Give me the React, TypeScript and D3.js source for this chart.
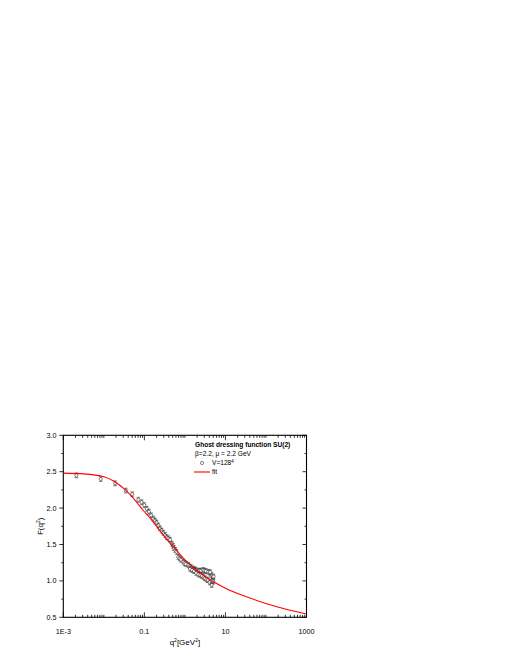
import { useRef, useEffect } from "react";
import * as d3 from "d3";

// lattice data, V=128^4 (q^2 in GeV^2, F(q^2))
const latQ = [
  0.0021, 0.0084, 0.019, 0.035, 0.05, 0.071, 0.086, 0.1, 0.115, 0.13, 0.148,
  0.166, 0.183, 0.201, 0.222, 0.243, 0.268, 0.293, 0.325, 0.356, 0.39, 0.43,
  0.48, 0.51, 0.537, 0.58, 0.62, 0.687, 0.74, 0.8, 0.914, 0.98, 1.06, 1.21,
  1.3, 1.42, 1.61, 1.75, 1.88, 2.14, 2.3, 2.5, 2.84, 3.05, 3.31, 3.78, 4.2,
  4.58, 5.0, 1.34, 1.5, 1.68, 1.9, 2.14, 2.4, 2.63, 2.9, 3.13, 3.4, 3.72, 4.1,
  4.58, 4.94, 4.17, 4.8, 5.1,
];
const latF = [
  2.45, 2.4, 2.34, 2.24, 2.19, 2.115, 2.08, 2.04, 1.99, 1.95, 1.9, 1.855,
  1.83, 1.8, 1.76, 1.72, 1.69, 1.66, 1.63, 1.6, 1.585, 1.565, 1.51, 1.48, 1.45,
  1.425, 1.4, 1.33, 1.31, 1.29, 1.265, 1.245, 1.23, 1.22, 1.2, 1.19, 1.17,
  1.16, 1.15, 1.135, 1.14, 1.14, 1.15, 1.14, 1.135, 1.125, 1.1, 1.08, 0.99,
  1.165, 1.15, 1.135, 1.11, 1.09, 1.08, 1.067, 1.05, 1.036, 1.02, 1.01, 0.98,
  0.944, 1.04, 1.12, 1.0, 1.06,
];
const latErr = 0.033;

// fit curve
const fitQ = [
  0.001, 0.00316, 0.01, 0.0178, 0.034, 0.063, 0.1, 0.126, 0.25, 0.43, 1, 3.16,
  10, 31.6, 100, 316, 1000,
];
const fitF = [
  2.48, 2.47, 2.43, 2.37, 2.25, 2.09, 1.95, 1.89, 1.68, 1.52, 1.29, 1.06, 0.9,
  0.785, 0.69, 0.61, 0.545,
];

const xMajor = [0.001, 0.1, 10, 1000];
const xMajorLabels = ["1E-3", "0.1", "10", "1000"];
const yMajor = [0.5, 1.0, 1.5, 2.0, 2.5, 3.0];

const font = "'Liberation Sans', Arial, sans-serif";

export default function App() {
  const ref = useRef<SVGSVGElement>(null);
  const W = 510,
    H = 660;
  const m = { left: 63.3, top: 435.3, right: 306.5, bottom: 617.3 };

  useEffect(() => {
    const svg = d3.select(ref.current);
    svg.selectAll("*").remove();

    const x = d3.scaleLog().domain([0.001, 1000]).range([m.left, m.right]);
    const y = d3.scaleLinear().domain([0.5, 3.0]).range([m.bottom, m.top]);

    const minor: number[] = [];
    for (let e = -3; e < 3; e++) {
      for (let k = 1; k <= 9; k++) {
        const v = k * Math.pow(10, e);
        if (!xMajor.includes(v)) minor.push(v);
      }
    }
    const yMinor = d3.range(0.75, 3.0, 0.5);

    const g = svg.append("g");

    // bottom & top ticks (inward)
    const xt = g.append("g").attr("stroke", "#000").attr("stroke-width", 0.8);
    xMajor.forEach((v) => {
      xt.append("line").attr("x1", x(v)).attr("x2", x(v)).attr("y1", m.bottom).attr("y2", m.bottom - 5);
      xt.append("line").attr("x1", x(v)).attr("x2", x(v)).attr("y1", m.top).attr("y2", m.top + 5);
    });
    minor.forEach((v) => {
      xt.append("line").attr("x1", x(v)).attr("x2", x(v)).attr("y1", m.bottom).attr("y2", m.bottom - 2.5);
      xt.append("line").attr("x1", x(v)).attr("x2", x(v)).attr("y1", m.top).attr("y2", m.top + 2.5);
    });

    // left ticks (outward) & right ticks (inward)
    const yt = g.append("g").attr("stroke", "#000").attr("stroke-width", 0.8);
    yMajor.forEach((v) => {
      yt.append("line").attr("x1", m.left).attr("x2", m.left - 4).attr("y1", y(v)).attr("y2", y(v));
      yt.append("line").attr("x1", m.right).attr("x2", m.right - 4).attr("y1", y(v)).attr("y2", y(v));
    });
    yMinor.forEach((v) => {
      yt.append("line").attr("x1", m.left).attr("x2", m.left - 2).attr("y1", y(v)).attr("y2", y(v));
      yt.append("line").attr("x1", m.right).attr("x2", m.right - 2).attr("y1", y(v)).attr("y2", y(v));
    });

    // frame
    g.append("rect")
      .attr("x", m.left)
      .attr("y", m.top)
      .attr("width", m.right - m.left)
      .attr("height", m.bottom - m.top)
      .attr("fill", "none")
      .attr("stroke", "#000")
      .attr("stroke-width", 1.1);

    // tick labels
    g.selectAll(".xl")
      .data(xMajor)
      .join("text")
      .attr("x", (d) => x(d))
      .attr("y", 634)
      .attr("text-anchor", "middle")
      .attr("font-family", font)
      .attr("font-size", 7.2)
      .text((d, i) => xMajorLabels[i]);
    g.selectAll(".yl")
      .data(yMajor)
      .join("text")
      .attr("x", 56.5)
      .attr("y", (d) => y(d) + 2.5)
      .attr("text-anchor", "end")
      .attr("font-family", font)
      .attr("font-size", 7.2)
      .text((d) => d.toFixed(1));

    // axis titles
    const xl = g.append("text")
      .attr("x", (m.left + m.right) / 2)
      .attr("y", 645)
      .attr("text-anchor", "middle")
      .attr("font-family", font)
      .attr("font-size", 8);
    xl.append("tspan").text("q");
    xl.append("tspan").attr("dy", -3).attr("font-size", 5).text("2");
    xl.append("tspan").attr("dy", 3).text("[GeV");
    xl.append("tspan").attr("dy", -3).attr("font-size", 5).text("2");
    xl.append("tspan").attr("dy", 3).text("]");

    const yl = g.append("text")
      .attr("transform", `translate(42.5, ${(m.top + m.bottom) / 2}) rotate(-90)`)
      .attr("text-anchor", "middle")
      .attr("font-family", font)
      .attr("font-size", 8);
    yl.append("tspan").text("F(q");
    yl.append("tspan").attr("dy", -3).attr("font-size", 5).text("2");
    yl.append("tspan").attr("dy", 3).text(")");

    // clip
    svg.append("clipPath").attr("id", "plotclip")
      .append("rect")
      .attr("x", m.left).attr("y", m.top)
      .attr("width", m.right - m.left).attr("height", m.bottom - m.top);

    // data points with error bars
    const pts = latQ.map((q, i) => ({ q, f: latF[i] }));
    const pg = g.append("g").attr("clip-path", "url(#plotclip)")
      .attr("stroke", "#333").attr("stroke-width", 0.6).attr("fill", "none");
    pts.forEach((p) => {
      const cx = x(p.q);
      const y0 = y(p.f + latErr),
        y1 = y(p.f - latErr);
      pg.append("line").attr("x1", cx).attr("x2", cx).attr("y1", y0).attr("y2", y1);
      pg.append("line").attr("x1", cx - 1.8).attr("x2", cx + 1.8).attr("y1", y0).attr("y2", y0);
      pg.append("line").attr("x1", cx - 1.8).attr("x2", cx + 1.8).attr("y1", y1).attr("y2", y1);
      pg.append("circle").attr("cx", cx).attr("cy", y(p.f)).attr("r", 1.6).attr("fill", "#fff");
    });

    // fit curve
    const line = d3
      .line<number>()
      .x((d) => x(d))
      .y((d, i) => y(fitF[i]))
      .curve(d3.curveMonotoneX);
    g.append("path")
      .attr("clip-path", "url(#plotclip)")
      .attr("d", line(fitQ))
      .attr("fill", "none")
      .attr("stroke", "#ff0000")
      .attr("stroke-width", 1.1);

    // legend
    const lg = g.append("g").attr("font-family", font).attr("font-size", 6.6);
    lg.append("text").attr("x", 195).attr("y", 446.5).attr("font-weight", "bold").text("Ghost dressing function SU(2)");
    lg.append("text").attr("x", 195).attr("y", 455.5).text("\u03b2=2.2, \u03bc = 2.2 GeV");
    lg.append("circle").attr("cx", 202).attr("cy", 463).attr("r", 1.6).attr("fill", "none").attr("stroke", "#333").attr("stroke-width", 0.6);
    const vt = lg.append("text").attr("x", 212).attr("y", 465);
    vt.append("tspan").text("V=128");
    vt.append("tspan").attr("dy", -2.5).attr("font-size", 4.5).text("4");
    lg.append("line").attr("x1", 194).attr("x2", 210).attr("y1", 472).attr("y2", 472).attr("stroke", "#ff0000").attr("stroke-width", 1.1);
    lg.append("text").attr("x", 212).attr("y", 474).text("fit");
  }, []);

  return (
    <svg
      ref={ref}
      width={W}
      height={H}
      viewBox={`0 0 ${W} ${H}`}
      style={{ position: "absolute", left: 0, top: 0, background: "#fff" }}
    />
  );
}
